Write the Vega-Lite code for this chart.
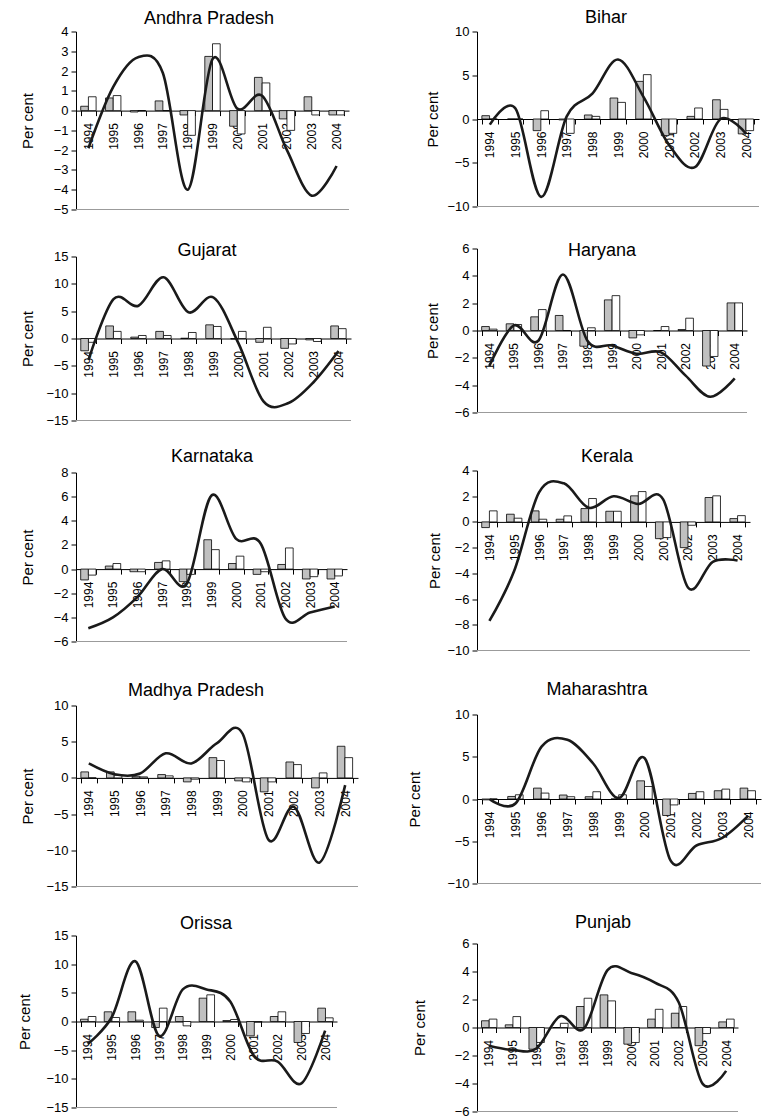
{
"$schema": "https://vega.github.io/schema/vega-lite/v6.json",
"padding": {"left": 17, "top": 8.5, "right": 0, "bottom": 0},
"data": {"values": [
{"state":"Andhra Pradesh","year":1994,"series":"gray","value":0.22},{"state":"Andhra Pradesh","year":1994,"series":"white","value":0.70},{"state":"Andhra Pradesh","year":1994,"series":"line","value":-1.9},
{"state":"Andhra Pradesh","year":1995,"series":"gray","value":0.64},{"state":"Andhra Pradesh","year":1995,"series":"white","value":0.76},{"state":"Andhra Pradesh","year":1995,"series":"line","value":1.2},
{"state":"Andhra Pradesh","year":1996,"series":"gray","value":-0.07},{"state":"Andhra Pradesh","year":1996,"series":"white","value":0},{"state":"Andhra Pradesh","year":1996,"series":"line","value":2.7},
{"state":"Andhra Pradesh","year":1997,"series":"gray","value":0.49},{"state":"Andhra Pradesh","year":1997,"series":"white","value":0},{"state":"Andhra Pradesh","year":1997,"series":"line","value":1.9},
{"state":"Andhra Pradesh","year":1998,"series":"gray","value":-0.22},{"state":"Andhra Pradesh","year":1998,"series":"white","value":-1.25},{"state":"Andhra Pradesh","year":1998,"series":"line","value":-4.0},
{"state":"Andhra Pradesh","year":1999,"series":"gray","value":2.74},{"state":"Andhra Pradesh","year":1999,"series":"white","value":3.38},{"state":"Andhra Pradesh","year":1999,"series":"line","value":2.6},
{"state":"Andhra Pradesh","year":2000,"series":"gray","value":-0.79},{"state":"Andhra Pradesh","year":2000,"series":"white","value":-1.18},{"state":"Andhra Pradesh","year":2000,"series":"line","value":0.1},
{"state":"Andhra Pradesh","year":2001,"series":"gray","value":1.68},{"state":"Andhra Pradesh","year":2001,"series":"white","value":1.40},{"state":"Andhra Pradesh","year":2001,"series":"line","value":0.75},
{"state":"Andhra Pradesh","year":2002,"series":"gray","value":-0.42},{"state":"Andhra Pradesh","year":2002,"series":"white","value":-1.0},{"state":"Andhra Pradesh","year":2002,"series":"line","value":-2.0},
{"state":"Andhra Pradesh","year":2003,"series":"gray","value":0.70},{"state":"Andhra Pradesh","year":2003,"series":"white","value":-0.22},{"state":"Andhra Pradesh","year":2003,"series":"line","value":-4.3},
{"state":"Andhra Pradesh","year":2004,"series":"gray","value":-0.22},{"state":"Andhra Pradesh","year":2004,"series":"white","value":-0.22},{"state":"Andhra Pradesh","year":2004,"series":"line","value":-2.8},
{"state":"Bihar","year":1994,"series":"gray","value":0.38},{"state":"Bihar","year":1994,"series":"white","value":0},{"state":"Bihar","year":1994,"series":"line","value":-0.65},
{"state":"Bihar","year":1995,"series":"gray","value":0},{"state":"Bihar","year":1995,"series":"white","value":0},{"state":"Bihar","year":1995,"series":"line","value":1.2},
{"state":"Bihar","year":1996,"series":"gray","value":-1.33},{"state":"Bihar","year":1996,"series":"white","value":0.95},{"state":"Bihar","year":1996,"series":"line","value":-8.9},
{"state":"Bihar","year":1997,"series":"gray","value":-0.1},{"state":"Bihar","year":1997,"series":"white","value":-1.64},{"state":"Bihar","year":1997,"series":"line","value":0.3},
{"state":"Bihar","year":1998,"series":"gray","value":0.46},{"state":"Bihar","year":1998,"series":"white","value":0.3},{"state":"Bihar","year":1998,"series":"line","value":2.9},
{"state":"Bihar","year":1999,"series":"gray","value":2.4},{"state":"Bihar","year":1999,"series":"white","value":1.9},{"state":"Bihar","year":1999,"series":"line","value":6.8},
{"state":"Bihar","year":2000,"series":"gray","value":4.3},{"state":"Bihar","year":2000,"series":"white","value":5.07},{"state":"Bihar","year":2000,"series":"line","value":2.5},
{"state":"Bihar","year":2001,"series":"gray","value":-1.9},{"state":"Bihar","year":2001,"series":"white","value":-1.64},{"state":"Bihar","year":2001,"series":"line","value":-3.0},
{"state":"Bihar","year":2002,"series":"gray","value":0.3},{"state":"Bihar","year":2002,"series":"white","value":1.26},{"state":"Bihar","year":2002,"series":"line","value":-5.5},
{"state":"Bihar","year":2003,"series":"gray","value":2.2},{"state":"Bihar","year":2003,"series":"white","value":1.1},{"state":"Bihar","year":2003,"series":"line","value":0.0},
{"state":"Bihar","year":2004,"series":"gray","value":-1.7},{"state":"Bihar","year":2004,"series":"white","value":-1.33},{"state":"Bihar","year":2004,"series":"line","value":-1.7},
{"state":"Gujarat","year":1994,"series":"gray","value":-2.25},{"state":"Gujarat","year":1994,"series":"white","value":-0.7},{"state":"Gujarat","year":1994,"series":"line","value":-3.9},
{"state":"Gujarat","year":1995,"series":"gray","value":2.3},{"state":"Gujarat","year":1995,"series":"white","value":1.3},{"state":"Gujarat","year":1995,"series":"line","value":7.2},
{"state":"Gujarat","year":1996,"series":"gray","value":0.25},{"state":"Gujarat","year":1996,"series":"white","value":0.55},{"state":"Gujarat","year":1996,"series":"line","value":6.0},
{"state":"Gujarat","year":1997,"series":"gray","value":1.3},{"state":"Gujarat","year":1997,"series":"white","value":0.55},{"state":"Gujarat","year":1997,"series":"line","value":11.2},
{"state":"Gujarat","year":1998,"series":"gray","value":0.05},{"state":"Gujarat","year":1998,"series":"white","value":1.1},{"state":"Gujarat","year":1998,"series":"line","value":4.8},
{"state":"Gujarat","year":1999,"series":"gray","value":2.5},{"state":"Gujarat","year":1999,"series":"white","value":2.2},{"state":"Gujarat","year":1999,"series":"line","value":7.5},
{"state":"Gujarat","year":2000,"series":"gray","value":-0.1},{"state":"Gujarat","year":2000,"series":"white","value":1.3},{"state":"Gujarat","year":2000,"series":"line","value":-0.9},
{"state":"Gujarat","year":2001,"series":"gray","value":-0.7},{"state":"Gujarat","year":2001,"series":"white","value":2.05},{"state":"Gujarat","year":2001,"series":"line","value":-11.5},
{"state":"Gujarat","year":2002,"series":"gray","value":-1.8},{"state":"Gujarat","year":2002,"series":"white","value":-1.0},{"state":"Gujarat","year":2002,"series":"line","value":-11.8},
{"state":"Gujarat","year":2003,"series":"gray","value":-0.25},{"state":"Gujarat","year":2003,"series":"white","value":-0.55},{"state":"Gujarat","year":2003,"series":"line","value":-8.0},
{"state":"Gujarat","year":2004,"series":"gray","value":2.3},{"state":"Gujarat","year":2004,"series":"white","value":1.8},{"state":"Gujarat","year":2004,"series":"line","value":-2.3},
{"state":"Haryana","year":1994,"series":"gray","value":0.29},{"state":"Haryana","year":1994,"series":"white","value":0.1},{"state":"Haryana","year":1994,"series":"line","value":-2.6},
{"state":"Haryana","year":1995,"series":"gray","value":0.49},{"state":"Haryana","year":1995,"series":"white","value":0.44},{"state":"Haryana","year":1995,"series":"line","value":0.37},
{"state":"Haryana","year":1996,"series":"gray","value":1.0},{"state":"Haryana","year":1996,"series":"white","value":1.53},{"state":"Haryana","year":1996,"series":"line","value":-0.75},
{"state":"Haryana","year":1997,"series":"gray","value":1.1},{"state":"Haryana","year":1997,"series":"white","value":0},{"state":"Haryana","year":1997,"series":"line","value":4.1},
{"state":"Haryana","year":1998,"series":"gray","value":-1.15},{"state":"Haryana","year":1998,"series":"white","value":0.2},{"state":"Haryana","year":1998,"series":"line","value":-0.75},
{"state":"Haryana","year":1999,"series":"gray","value":2.24},{"state":"Haryana","year":1999,"series":"white","value":2.55},{"state":"Haryana","year":1999,"series":"line","value":-1.1},
{"state":"Haryana","year":2000,"series":"gray","value":-0.54},{"state":"Haryana","year":2000,"series":"white","value":-0.32},{"state":"Haryana","year":2000,"series":"line","value":-1.7},
{"state":"Haryana","year":2001,"series":"gray","value":0},{"state":"Haryana","year":2001,"series":"white","value":0.29},{"state":"Haryana","year":2001,"series":"line","value":-1.6},
{"state":"Haryana","year":2002,"series":"gray","value":0.07},{"state":"Haryana","year":2002,"series":"white","value":0.9},{"state":"Haryana","year":2002,"series":"line","value":-3.3},
{"state":"Haryana","year":2003,"series":"gray","value":-2.6},{"state":"Haryana","year":2003,"series":"white","value":-1.9},{"state":"Haryana","year":2003,"series":"line","value":-4.85},
{"state":"Haryana","year":2004,"series":"gray","value":2.02},{"state":"Haryana","year":2004,"series":"white","value":2.02},{"state":"Haryana","year":2004,"series":"line","value":-3.5},
{"state":"Karnataka","year":1994,"series":"gray","value":-0.9},{"state":"Karnataka","year":1994,"series":"white","value":-0.5},{"state":"Karnataka","year":1994,"series":"line","value":-4.9},
{"state":"Karnataka","year":1995,"series":"gray","value":0.25},{"state":"Karnataka","year":1995,"series":"white","value":0.46},{"state":"Karnataka","year":1995,"series":"line","value":-4.0},
{"state":"Karnataka","year":1996,"series":"gray","value":-0.22},{"state":"Karnataka","year":1996,"series":"white","value":-0.22},{"state":"Karnataka","year":1996,"series":"line","value":-2.3},
{"state":"Karnataka","year":1997,"series":"gray","value":0.55},{"state":"Karnataka","year":1997,"series":"white","value":0.68},{"state":"Karnataka","year":1997,"series":"line","value":0.0},
{"state":"Karnataka","year":1998,"series":"gray","value":-1.04},{"state":"Karnataka","year":1998,"series":"white","value":-0.44},{"state":"Karnataka","year":1998,"series":"line","value":-1.2},
{"state":"Karnataka","year":1999,"series":"gray","value":2.43},{"state":"Karnataka","year":1999,"series":"white","value":1.61},{"state":"Karnataka","year":1999,"series":"line","value":6.1},
{"state":"Karnataka","year":2000,"series":"gray","value":0.46},{"state":"Karnataka","year":2000,"series":"white","value":1.07},{"state":"Karnataka","year":2000,"series":"line","value":2.5},
{"state":"Karnataka","year":2001,"series":"gray","value":-0.44},{"state":"Karnataka","year":2001,"series":"white","value":-0.22},{"state":"Karnataka","year":2001,"series":"line","value":2.1},
{"state":"Karnataka","year":2002,"series":"gray","value":0.38},{"state":"Karnataka","year":2002,"series":"white","value":1.75},{"state":"Karnataka","year":2002,"series":"line","value":-4.1},
{"state":"Karnataka","year":2003,"series":"gray","value":-0.82},{"state":"Karnataka","year":2003,"series":"white","value":-0.63},{"state":"Karnataka","year":2003,"series":"line","value":-3.6},
{"state":"Karnataka","year":2004,"series":"gray","value":-0.82},{"state":"Karnataka","year":2004,"series":"white","value":-0.57},{"state":"Karnataka","year":2004,"series":"line","value":-3.1},
{"state":"Kerala","year":1994,"series":"gray","value":-0.44},{"state":"Kerala","year":1994,"series":"white","value":0.86},{"state":"Kerala","year":1994,"series":"line","value":-7.7},
{"state":"Kerala","year":1995,"series":"gray","value":0.6},{"state":"Kerala","year":1995,"series":"white","value":0.29},{"state":"Kerala","year":1995,"series":"line","value":-3.8},
{"state":"Kerala","year":1996,"series":"gray","value":0.86},{"state":"Kerala","year":1996,"series":"white","value":0.21},{"state":"Kerala","year":1996,"series":"line","value":2.3},
{"state":"Kerala","year":1997,"series":"gray","value":0.21},{"state":"Kerala","year":1997,"series":"white","value":0.47},{"state":"Kerala","year":1997,"series":"line","value":3.0},
{"state":"Kerala","year":1998,"series":"gray","value":1.04},{"state":"Kerala","year":1998,"series":"white","value":1.82},{"state":"Kerala","year":1998,"series":"line","value":1.1},
{"state":"Kerala","year":1999,"series":"gray","value":0.83},{"state":"Kerala","year":1999,"series":"white","value":0.83},{"state":"Kerala","year":1999,"series":"line","value":2.0},
{"state":"Kerala","year":2000,"series":"gray","value":2.03},{"state":"Kerala","year":2000,"series":"white","value":2.36},{"state":"Kerala","year":2000,"series":"line","value":1.4},
{"state":"Kerala","year":2001,"series":"gray","value":-1.3},{"state":"Kerala","year":2001,"series":"white","value":-1.22},{"state":"Kerala","year":2001,"series":"line","value":1.75},
{"state":"Kerala","year":2002,"series":"gray","value":-2.0},{"state":"Kerala","year":2002,"series":"white","value":-0.26},{"state":"Kerala","year":2002,"series":"line","value":-5.1},
{"state":"Kerala","year":2003,"series":"gray","value":1.9},{"state":"Kerala","year":2003,"series":"white","value":2.03},{"state":"Kerala","year":2003,"series":"line","value":-3.1},
{"state":"Kerala","year":2004,"series":"gray","value":0.26},{"state":"Kerala","year":2004,"series":"white","value":0.49},{"state":"Kerala","year":2004,"series":"line","value":-3.0},
{"state":"Madhya Pradesh","year":1994,"series":"gray","value":0.83},{"state":"Madhya Pradesh","year":1994,"series":"white","value":0},{"state":"Madhya Pradesh","year":1994,"series":"line","value":2.0},
{"state":"Madhya Pradesh","year":1995,"series":"gray","value":0.83},{"state":"Madhya Pradesh","year":1995,"series":"white","value":0.37},{"state":"Madhya Pradesh","year":1995,"series":"line","value":0.5},
{"state":"Madhya Pradesh","year":1996,"series":"gray","value":0.23},{"state":"Madhya Pradesh","year":1996,"series":"white","value":0.14},{"state":"Madhya Pradesh","year":1996,"series":"line","value":0.6},
{"state":"Madhya Pradesh","year":1997,"series":"gray","value":0.46},{"state":"Madhya Pradesh","year":1997,"series":"white","value":0.28},{"state":"Madhya Pradesh","year":1997,"series":"line","value":3.4},
{"state":"Madhya Pradesh","year":1998,"series":"gray","value":-0.55},{"state":"Madhya Pradesh","year":1998,"series":"white","value":-0.18},{"state":"Madhya Pradesh","year":1998,"series":"line","value":2.0},
{"state":"Madhya Pradesh","year":1999,"series":"gray","value":2.8},{"state":"Madhya Pradesh","year":1999,"series":"white","value":2.4},{"state":"Madhya Pradesh","year":1999,"series":"line","value":4.8},
{"state":"Madhya Pradesh","year":2000,"series":"gray","value":-0.41},{"state":"Madhya Pradesh","year":2000,"series":"white","value":-0.55},{"state":"Madhya Pradesh","year":2000,"series":"line","value":6.1},
{"state":"Madhya Pradesh","year":2001,"series":"gray","value":-1.93},{"state":"Madhya Pradesh","year":2001,"series":"white","value":-0.55},{"state":"Madhya Pradesh","year":2001,"series":"line","value":-8.5},
{"state":"Madhya Pradesh","year":2002,"series":"gray","value":2.2},{"state":"Madhya Pradesh","year":2002,"series":"white","value":1.84},{"state":"Madhya Pradesh","year":2002,"series":"line","value":-4.0},
{"state":"Madhya Pradesh","year":2003,"series":"gray","value":-1.38},{"state":"Madhya Pradesh","year":2003,"series":"white","value":0.69},{"state":"Madhya Pradesh","year":2003,"series":"line","value":-11.7},
{"state":"Madhya Pradesh","year":2004,"series":"gray","value":4.37},{"state":"Madhya Pradesh","year":2004,"series":"white","value":2.8},{"state":"Madhya Pradesh","year":2004,"series":"line","value":-1.0},
{"state":"Maharashtra","year":1994,"series":"gray","value":-0.1},{"state":"Maharashtra","year":1994,"series":"white","value":0},{"state":"Maharashtra","year":1994,"series":"line","value":-0.05},
{"state":"Maharashtra","year":1995,"series":"gray","value":0.3},{"state":"Maharashtra","year":1995,"series":"white","value":0.5},{"state":"Maharashtra","year":1995,"series":"line","value":-0.5},
{"state":"Maharashtra","year":1996,"series":"gray","value":1.29},{"state":"Maharashtra","year":1996,"series":"white","value":0.7},{"state":"Maharashtra","year":1996,"series":"line","value":6.2},
{"state":"Maharashtra","year":1997,"series":"gray","value":0.47},{"state":"Maharashtra","year":1997,"series":"white","value":0.27},{"state":"Maharashtra","year":1997,"series":"line","value":7.0},
{"state":"Maharashtra","year":1998,"series":"gray","value":0.27},{"state":"Maharashtra","year":1998,"series":"white","value":0.86},{"state":"Maharashtra","year":1998,"series":"line","value":4.2},
{"state":"Maharashtra","year":1999,"series":"gray","value":0},{"state":"Maharashtra","year":1999,"series":"white","value":0.5},{"state":"Maharashtra","year":1999,"series":"line","value":0.1},
{"state":"Maharashtra","year":2000,"series":"gray","value":2.15},{"state":"Maharashtra","year":2000,"series":"white","value":1.48},{"state":"Maharashtra","year":2000,"series":"line","value":4.8},
{"state":"Maharashtra","year":2001,"series":"gray","value":-1.95},{"state":"Maharashtra","year":2001,"series":"white","value":-0.7},{"state":"Maharashtra","year":2001,"series":"line","value":-7.3},
{"state":"Maharashtra","year":2002,"series":"gray","value":0.66},{"state":"Maharashtra","year":2002,"series":"white","value":0.86},{"state":"Maharashtra","year":2002,"series":"line","value":-5.5},
{"state":"Maharashtra","year":2003,"series":"gray","value":0.98},{"state":"Maharashtra","year":2003,"series":"white","value":1.17},{"state":"Maharashtra","year":2003,"series":"line","value":-4.6},
{"state":"Maharashtra","year":2004,"series":"gray","value":1.29},{"state":"Maharashtra","year":2004,"series":"white","value":0.98},{"state":"Maharashtra","year":2004,"series":"line","value":-2.0},
{"state":"Orissa","year":1994,"series":"gray","value":0.4},{"state":"Orissa","year":1994,"series":"white","value":0.87},{"state":"Orissa","year":1994,"series":"line","value":-3.9},
{"state":"Orissa","year":1995,"series":"gray","value":1.69},{"state":"Orissa","year":1995,"series":"white","value":0.7},{"state":"Orissa","year":1995,"series":"line","value":0.7},
{"state":"Orissa","year":1996,"series":"gray","value":1.69},{"state":"Orissa","year":1996,"series":"white","value":0.23},{"state":"Orissa","year":1996,"series":"line","value":10.5},
{"state":"Orissa","year":1997,"series":"gray","value":-1.05},{"state":"Orissa","year":1997,"series":"white","value":2.33},{"state":"Orissa","year":1997,"series":"line","value":-2.5},
{"state":"Orissa","year":1998,"series":"gray","value":0.87},{"state":"Orissa","year":1998,"series":"white","value":-0.76},{"state":"Orissa","year":1998,"series":"line","value":5.6},
{"state":"Orissa","year":1999,"series":"gray","value":4.07},{"state":"Orissa","year":1999,"series":"white","value":4.65},{"state":"Orissa","year":1999,"series":"line","value":5.6},
{"state":"Orissa","year":2000,"series":"gray","value":0.17},{"state":"Orissa","year":2000,"series":"white","value":0.35},{"state":"Orissa","year":2000,"series":"line","value":3.5},
{"state":"Orissa","year":2001,"series":"gray","value":-2.5},{"state":"Orissa","year":2001,"series":"white","value":-0.1},{"state":"Orissa","year":2001,"series":"line","value":-6.0},
{"state":"Orissa","year":2002,"series":"gray","value":0.87},{"state":"Orissa","year":2002,"series":"white","value":1.69},{"state":"Orissa","year":2002,"series":"line","value":-7.0},
{"state":"Orissa","year":2003,"series":"gray","value":-3.66},{"state":"Orissa","year":2003,"series":"white","value":-2.09},{"state":"Orissa","year":2003,"series":"line","value":-10.8},
{"state":"Orissa","year":2004,"series":"gray","value":2.33},{"state":"Orissa","year":2004,"series":"white","value":0.64},{"state":"Orissa","year":2004,"series":"line","value":-1.6},
{"state":"Punjab","year":1994,"series":"gray","value":0.48},{"state":"Punjab","year":1994,"series":"white","value":0.6},{"state":"Punjab","year":1994,"series":"line","value":-1.3},
{"state":"Punjab","year":1995,"series":"gray","value":0.19},{"state":"Punjab","year":1995,"series":"white","value":0.78},{"state":"Punjab","year":1995,"series":"line","value":-1.6},
{"state":"Punjab","year":1996,"series":"gray","value":-1.55},{"state":"Punjab","year":1996,"series":"white","value":-1.07},{"state":"Punjab","year":1996,"series":"line","value":-1.5},
{"state":"Punjab","year":1997,"series":"gray","value":0},{"state":"Punjab","year":1997,"series":"white","value":0.3},{"state":"Punjab","year":1997,"series":"line","value":0.8},
{"state":"Punjab","year":1998,"series":"gray","value":1.5},{"state":"Punjab","year":1998,"series":"white","value":2.09},{"state":"Punjab","year":1998,"series":"line","value":-0.1},
{"state":"Punjab","year":1999,"series":"gray","value":2.33},{"state":"Punjab","year":1999,"series":"white","value":1.9},{"state":"Punjab","year":1999,"series":"line","value":4.1},
{"state":"Punjab","year":2000,"series":"gray","value":-1.19},{"state":"Punjab","year":2000,"series":"white","value":-1.07},{"state":"Punjab","year":2000,"series":"line","value":3.9},
{"state":"Punjab","year":2001,"series":"gray","value":0.6},{"state":"Punjab","year":2001,"series":"white","value":1.3},{"state":"Punjab","year":2001,"series":"line","value":3.2},
{"state":"Punjab","year":2002,"series":"gray","value":1.02},{"state":"Punjab","year":2002,"series":"white","value":1.5},{"state":"Punjab","year":2002,"series":"line","value":1.8},
{"state":"Punjab","year":2003,"series":"gray","value":-1.3},{"state":"Punjab","year":2003,"series":"white","value":-0.43},{"state":"Punjab","year":2003,"series":"line","value":-4.0},
{"state":"Punjab","year":2004,"series":"gray","value":0.4},{"state":"Punjab","year":2004,"series":"white","value":0.6},{"state":"Punjab","year":2004,"series":"line","value":-3.1}
]},
"columns": 2,
"spacing": {"row": 0, "column": 119},
"bounds": "flush",
"align": "each",
"concat": [
{"width": 273, "height": 217,
 "title": {"text": "Andhra Pradesh", "frame": "group", "anchor": "middle", "baseline": "alphabetic", "offset": -16.5, "dx": -3.5},
 "layer": [
  {"data": {"values": [{"base": -5}]}, "mark": {"type": "rule", "color": "#9b9b9b", "strokeWidth": 1}, "encoding": {"y": {"field": "base", "type": "quantitative", "title": "Per cent"}}},
  {"transform": [{"filter": "datum.state === 'Andhra Pradesh' && datum.series !== 'line'"}],
   "mark": {"type": "bar", "stroke": "#000", "strokeWidth": 0.8},
   "encoding": {
    "x": {"field": "year", "type": "ordinal", "title": null, "scale": {"paddingInner": 0.38, "paddingOuter": 0.19}, "axis": {"offset": -137.9}},
    "xOffset": {"field": "series", "type": "nominal", "scale": {"domain": ["gray", "white"]}},
    "y": {"field": "value", "type": "quantitative", "title": "Per cent", "scale": {"domain": [-5, 4], "range": [178, 0], "nice": false, "zero": false}, "axis": {"values": [-5, -4, -3, -2, -1, 0, 1, 2, 3, 4], "format": "d", "tickCount": 40, "labelOverlap": false, "titleX": -49, "titleY": 89}},
    "color": {"field": "series", "type": "nominal", "scale": {"domain": ["gray", "white"], "range": ["#c0c0c0", "#ffffff"]}, "legend": null}}},
  {"transform": [{"filter": "datum.state === 'Andhra Pradesh' && datum.series === 'line'"}],
   "mark": {"type": "line", "interpolate": "cardinal", "color": "#1a1a1a", "strokeWidth": 2.6},
   "encoding": {"x": {"field": "year", "type": "ordinal", "title": null}, "y": {"field": "value", "type": "quantitative", "title": "Per cent"}}}
 ]},
{"width": 282, "height": 217,
 "title": {"text": "Bihar", "frame": "group", "anchor": "middle", "baseline": "alphabetic", "offset": -15.5, "dx": -12},
 "layer": [
  {"data": {"values": [{"base": -10}]}, "mark": {"type": "rule", "color": "#9b9b9b", "strokeWidth": 1}, "encoding": {"y": {"field": "base", "type": "quantitative", "title": "Per cent"}}},
  {"transform": [{"filter": "datum.state === 'Bihar' && datum.series !== 'line'"}],
   "mark": {"type": "bar", "stroke": "#000", "strokeWidth": 0.8},
   "encoding": {
    "x": {"field": "year", "type": "ordinal", "title": null, "scale": {"paddingInner": 0.38, "paddingOuter": 0.19}, "axis": {"offset": -129.5}},
    "xOffset": {"field": "series", "type": "nominal", "scale": {"domain": ["gray", "white"]}},
    "y": {"field": "value", "type": "quantitative", "title": "Per cent", "scale": {"domain": [-10, 10], "range": [175, 0], "nice": false, "zero": false}, "axis": {"values": [-10, -5, 0, 5, 10], "format": "d", "tickCount": 40, "labelOverlap": false, "titleX": -45, "titleY": 87.5}},
    "color": {"field": "series", "type": "nominal", "scale": {"domain": ["gray", "white"], "range": ["#c0c0c0", "#ffffff"]}, "legend": null}}},
  {"transform": [{"filter": "datum.state === 'Bihar' && datum.series === 'line'"}],
   "mark": {"type": "line", "interpolate": "cardinal", "color": "#1a1a1a", "strokeWidth": 2.6},
   "encoding": {"x": {"field": "year", "type": "ordinal", "title": null}, "y": {"field": "value", "type": "quantitative", "title": "Per cent"}}}
 ]},
{"width": 275, "height": 222,
 "title": {"text": "Gujarat", "frame": "group", "anchor": "middle", "baseline": "alphabetic", "offset": -25, "dx": -6.5},
 "layer": [
  {"data": {"values": [{"base": -15}]}, "mark": {"type": "rule", "color": "#9b9b9b", "strokeWidth": 1}, "encoding": {"y": {"field": "base", "type": "quantitative", "title": "Per cent"}}},
  {"transform": [{"filter": "datum.state === 'Gujarat' && datum.series !== 'line'"}],
   "mark": {"type": "bar", "stroke": "#000", "strokeWidth": 0.8},
   "encoding": {
    "x": {"field": "year", "type": "ordinal", "title": null, "scale": {"paddingInner": 0.38, "paddingOuter": 0.19}, "axis": {"offset": -132}},
    "xOffset": {"field": "series", "type": "nominal", "scale": {"domain": ["gray", "white"]}},
    "y": {"field": "value", "type": "quantitative", "title": "Per cent", "scale": {"domain": [-15, 15], "range": [172, 8], "nice": false, "zero": false}, "axis": {"values": [-15, -10, -5, 0, 5, 10, 15], "format": "d", "tickCount": 40, "labelOverlap": false, "titleX": -49, "titleY": 90}},
    "color": {"field": "series", "type": "nominal", "scale": {"domain": ["gray", "white"], "range": ["#c0c0c0", "#ffffff"]}, "legend": null}}},
  {"transform": [{"filter": "datum.state === 'Gujarat' && datum.series === 'line'"}],
   "mark": {"type": "line", "interpolate": "cardinal", "color": "#1a1a1a", "strokeWidth": 2.6},
   "encoding": {"x": {"field": "year", "type": "ordinal", "title": null}, "y": {"field": "value", "type": "quantitative", "title": "Per cent"}}}
 ]},
{"width": 270, "height": 222,
 "title": {"text": "Haryana", "frame": "group", "anchor": "middle", "baseline": "alphabetic", "offset": -31.5, "dx": -10},
 "layer": [
  {"data": {"values": [{"base": -6}]}, "mark": {"type": "rule", "color": "#9b9b9b", "strokeWidth": 1}, "encoding": {"y": {"field": "base", "type": "quantitative", "title": "Per cent"}}},
  {"transform": [{"filter": "datum.state === 'Haryana' && datum.series !== 'line'"}],
   "mark": {"type": "bar", "stroke": "#000", "strokeWidth": 0.8},
   "encoding": {
    "x": {"field": "year", "type": "ordinal", "title": null, "scale": {"paddingInner": 0.38, "paddingOuter": 0.19}, "axis": {"offset": -140}},
    "xOffset": {"field": "series", "type": "nominal", "scale": {"domain": ["gray", "white"]}},
    "y": {"field": "value", "type": "quantitative", "title": "Per cent", "scale": {"domain": [-6, 6], "range": [164, 0], "nice": false, "zero": false}, "axis": {"values": [-6, -4, -2, 0, 2, 4, 6], "format": "d", "tickCount": 40, "labelOverlap": false, "titleX": -45, "titleY": 82}},
    "color": {"field": "series", "type": "nominal", "scale": {"domain": ["gray", "white"], "range": ["#c0c0c0", "#ffffff"]}, "legend": null}}},
  {"transform": [{"filter": "datum.state === 'Haryana' && datum.series === 'line'"}],
   "mark": {"type": "line", "interpolate": "cardinal", "color": "#1a1a1a", "strokeWidth": 2.6},
   "encoding": {"x": {"field": "year", "type": "ordinal", "title": null}, "y": {"field": "value", "type": "quantitative", "title": "Per cent"}}}
 ]},
{"width": 271, "height": 235,
 "title": {"text": "Karnataka", "frame": "group", "anchor": "middle", "baseline": "alphabetic", "offset": -13.5, "dx": 0.5},
 "layer": [
  {"data": {"values": [{"base": -6}]}, "mark": {"type": "rule", "color": "#9b9b9b", "strokeWidth": 1}, "encoding": {"y": {"field": "base", "type": "quantitative", "title": "Per cent"}}},
  {"transform": [{"filter": "datum.state === 'Karnataka' && datum.series !== 'line'"}],
   "mark": {"type": "bar", "stroke": "#000", "strokeWidth": 0.8},
   "encoding": {
    "x": {"field": "year", "type": "ordinal", "title": null, "scale": {"paddingInner": 0.38, "paddingOuter": 0.19}, "axis": {"offset": -136.4}},
    "xOffset": {"field": "series", "type": "nominal", "scale": {"domain": ["gray", "white"]}},
    "y": {"field": "value", "type": "quantitative", "title": "Per cent", "scale": {"domain": [-6, 8], "range": [171, 2], "nice": false, "zero": false}, "axis": {"values": [-6, -4, -2, 0, 2, 4, 6, 8], "format": "d", "tickCount": 40, "labelOverlap": false, "titleX": -49, "titleY": 86.5}},
    "color": {"field": "series", "type": "nominal", "scale": {"domain": ["gray", "white"], "range": ["#c0c0c0", "#ffffff"]}, "legend": null}}},
  {"transform": [{"filter": "datum.state === 'Karnataka' && datum.series === 'line'"}],
   "mark": {"type": "line", "interpolate": "cardinal", "color": "#1a1a1a", "strokeWidth": 2.6},
   "encoding": {"x": {"field": "year", "type": "ordinal", "title": null}, "y": {"field": "value", "type": "quantitative", "title": "Per cent"}}}
 ]},
{"width": 273, "height": 235,
 "title": {"text": "Kerala", "frame": "group", "anchor": "middle", "baseline": "alphabetic", "offset": -15.5, "dx": -6.5},
 "layer": [
  {"data": {"values": [{"base": -10}]}, "mark": {"type": "rule", "color": "#9b9b9b", "strokeWidth": 1}, "encoding": {"y": {"field": "base", "type": "quantitative", "title": "Per cent"}}},
  {"transform": [{"filter": "datum.state === 'Kerala' && datum.series !== 'line'"}],
   "mark": {"type": "bar", "stroke": "#000", "strokeWidth": 0.8},
   "encoding": {
    "x": {"field": "year", "type": "ordinal", "title": null, "scale": {"paddingInner": 0.38, "paddingOuter": 0.19}, "axis": {"offset": -183.6}},
    "xOffset": {"field": "series", "type": "nominal", "scale": {"domain": ["gray", "white"]}},
    "y": {"field": "value", "type": "quantitative", "title": "Per cent", "scale": {"domain": [-10, 4], "range": [180, 0], "nice": false, "zero": false}, "axis": {"values": [-10, -8, -6, -4, -2, 0, 2, 4], "format": "d", "tickCount": 40, "labelOverlap": false, "titleX": -43, "titleY": 90}},
    "color": {"field": "series", "type": "nominal", "scale": {"domain": ["gray", "white"], "range": ["#c0c0c0", "#ffffff"]}, "legend": null}}},
  {"transform": [{"filter": "datum.state === 'Kerala' && datum.series === 'line'"}],
   "mark": {"type": "line", "interpolate": "cardinal", "color": "#1a1a1a", "strokeWidth": 2.6},
   "encoding": {"x": {"field": "year", "type": "ordinal", "title": null}, "y": {"field": "value", "type": "quantitative", "title": "Per cent"}}}
 ]},
{"width": 282, "height": 230,
 "title": {"text": "Madhya Pradesh", "frame": "group", "anchor": "middle", "baseline": "alphabetic", "offset": -14.5, "dx": -21},
 "layer": [
  {"data": {"values": [{"base": -15}]}, "mark": {"type": "rule", "color": "#9b9b9b", "strokeWidth": 1}, "encoding": {"y": {"field": "base", "type": "quantitative", "title": "Per cent"}}},
  {"transform": [{"filter": "datum.state === 'Madhya Pradesh' && datum.series !== 'line'"}],
   "mark": {"type": "bar", "stroke": "#000", "strokeWidth": 0.8},
   "encoding": {
    "x": {"field": "year", "type": "ordinal", "title": null, "scale": {"paddingInner": 0.38, "paddingOuter": 0.19}, "axis": {"offset": -157.6}},
    "xOffset": {"field": "series", "type": "nominal", "scale": {"domain": ["gray", "white"]}},
    "y": {"field": "value", "type": "quantitative", "title": "Per cent", "scale": {"domain": [-15, 10], "range": [181, 0], "nice": false, "zero": false}, "axis": {"values": [-15, -10, -5, 0, 5, 10], "format": "d", "tickCount": 40, "labelOverlap": false, "titleX": -49, "titleY": 90.5}},
    "color": {"field": "series", "type": "nominal", "scale": {"domain": ["gray", "white"], "range": ["#c0c0c0", "#ffffff"]}, "legend": null}}},
  {"transform": [{"filter": "datum.state === 'Madhya Pradesh' && datum.series === 'line'"}],
   "mark": {"type": "line", "interpolate": "cardinal", "color": "#1a1a1a", "strokeWidth": 2.6},
   "encoding": {"x": {"field": "year", "type": "ordinal", "title": null}, "y": {"field": "value", "type": "quantitative", "title": "Per cent"}}}
 ]},
{"width": 284, "height": 230,
 "title": {"text": "Maharashtra", "frame": "group", "anchor": "middle", "baseline": "alphabetic", "offset": -7.5, "dx": -22},
 "layer": [
  {"data": {"values": [{"base": -10}]}, "mark": {"type": "rule", "color": "#9b9b9b", "strokeWidth": 1}, "encoding": {"y": {"field": "base", "type": "quantitative", "title": "Per cent"}}},
  {"transform": [{"filter": "datum.state === 'Maharashtra' && datum.series !== 'line'"}],
   "mark": {"type": "bar", "stroke": "#000", "strokeWidth": 0.8},
   "encoding": {
    "x": {"field": "year", "type": "ordinal", "title": null, "scale": {"paddingInner": 0.38, "paddingOuter": 0.19}, "axis": {"offset": -136.5}},
    "xOffset": {"field": "series", "type": "nominal", "scale": {"domain": ["gray", "white"]}},
    "y": {"field": "value", "type": "quantitative", "title": "Per cent", "scale": {"domain": [-10, 10], "range": [178, 9], "nice": false, "zero": false}, "axis": {"values": [-10, -5, 0, 5, 10], "format": "d", "tickCount": 40, "labelOverlap": false, "titleX": -63, "titleY": 93.5}},
    "color": {"field": "series", "type": "nominal", "scale": {"domain": ["gray", "white"], "range": ["#c0c0c0", "#ffffff"]}, "legend": null}}},
  {"transform": [{"filter": "datum.state === 'Maharashtra' && datum.series === 'line'"}],
   "mark": {"type": "line", "interpolate": "cardinal", "color": "#1a1a1a", "strokeWidth": 2.6},
   "encoding": {"x": {"field": "year", "type": "ordinal", "title": null}, "y": {"field": "value", "type": "quantitative", "title": "Per cent"}}}
 ]},
{"width": 261, "height": 176,
 "title": {"text": "Orissa", "frame": "group", "anchor": "middle", "baseline": "alphabetic", "offset": -17, "dx": -0.5},
 "layer": [
  {"data": {"values": [{"base": -15}]}, "mark": {"type": "rule", "color": "#9b9b9b", "strokeWidth": 1}, "encoding": {"y": {"field": "base", "type": "quantitative", "title": "Per cent"}}},
  {"transform": [{"filter": "datum.state === 'Orissa' && datum.series !== 'line'"}],
   "mark": {"type": "bar", "stroke": "#000", "strokeWidth": 0.8},
   "encoding": {
    "x": {"field": "year", "type": "ordinal", "title": null, "scale": {"paddingInner": 0.38, "paddingOuter": 0.19}, "axis": {"offset": -90}},
    "xOffset": {"field": "series", "type": "nominal", "scale": {"domain": ["gray", "white"]}},
    "y": {"field": "value", "type": "quantitative", "title": "Per cent", "scale": {"domain": [-15, 15], "range": [172, 0], "nice": false, "zero": false}, "axis": {"values": [-15, -10, -5, 0, 5, 10, 15], "format": "d", "tickCount": 40, "labelOverlap": false, "titleX": -52, "titleY": 86}},
    "color": {"field": "series", "type": "nominal", "scale": {"domain": ["gray", "white"], "range": ["#c0c0c0", "#ffffff"]}, "legend": null}}},
  {"transform": [{"filter": "datum.state === 'Orissa' && datum.series === 'line'"}],
   "mark": {"type": "line", "interpolate": "cardinal", "color": "#1a1a1a", "strokeWidth": 2.6},
   "encoding": {"x": {"field": "year", "type": "ordinal", "title": null}, "y": {"field": "value", "type": "quantitative", "title": "Per cent"}}}
 ]},
{"width": 261, "height": 176,
 "title": {"text": "Punjab", "frame": "group", "anchor": "middle", "baseline": "alphabetic", "offset": -10.5, "dx": -4.5},
 "layer": [
  {"data": {"values": [{"base": -6}]}, "mark": {"type": "rule", "color": "#9b9b9b", "strokeWidth": 1}, "encoding": {"y": {"field": "base", "type": "quantitative", "title": "Per cent"}}},
  {"transform": [{"filter": "datum.state === 'Punjab' && datum.series !== 'line'"}],
   "mark": {"type": "bar", "stroke": "#000", "strokeWidth": 0.8},
   "encoding": {
    "x": {"field": "year", "type": "ordinal", "title": null, "scale": {"paddingInner": 0.38, "paddingOuter": 0.19}, "axis": {"offset": -84}},
    "xOffset": {"field": "series", "type": "nominal", "scale": {"domain": ["gray", "white"]}},
    "y": {"field": "value", "type": "quantitative", "title": "Per cent", "scale": {"domain": [-6, 6], "range": [176, 8], "nice": false, "zero": false}, "axis": {"values": [-6, -4, -2, 0, 2, 4, 6], "format": "d", "tickCount": 40, "labelOverlap": false, "titleX": -58, "titleY": 92}},
    "color": {"field": "series", "type": "nominal", "scale": {"domain": ["gray", "white"], "range": ["#c0c0c0", "#ffffff"]}, "legend": null}}},
  {"transform": [{"filter": "datum.state === 'Punjab' && datum.series === 'line'"}],
   "mark": {"type": "line", "interpolate": "cardinal", "color": "#1a1a1a", "strokeWidth": 2.6},
   "encoding": {"x": {"field": "year", "type": "ordinal", "title": null}, "y": {"field": "value", "type": "quantitative", "title": "Per cent"}}}
 ]}
],
"config": {
 "view": {"stroke": null},
 "font": "Liberation Sans",
 "title": {"font": "Liberation Sans", "fontSize": 18, "fontWeight": "normal", "color": "#000"},
 "axis": {"domainColor": "#000", "tickColor": "#000", "labelColor": "#000", "titleColor": "#000", "grid": false, "titleFontWeight": "normal", "labelFont": "Liberation Sans", "titleFont": "Liberation Sans"},
 "axisX": {"labelAngle": 270, "labelAlign": "right", "labelBaseline": "middle", "labelFontSize": 12, "labelPadding": 7, "tickSize": 5, "tickBand": "extent", "zindex": 1, "labelOverlap": false},
 "axisY": {"labelFontSize": 13, "titleFontSize": 15, "tickSize": 5, "labelPadding": 3, "titleBaseline": "middle", "titleAngle": 270, "labelOverlap": false}
}
}
